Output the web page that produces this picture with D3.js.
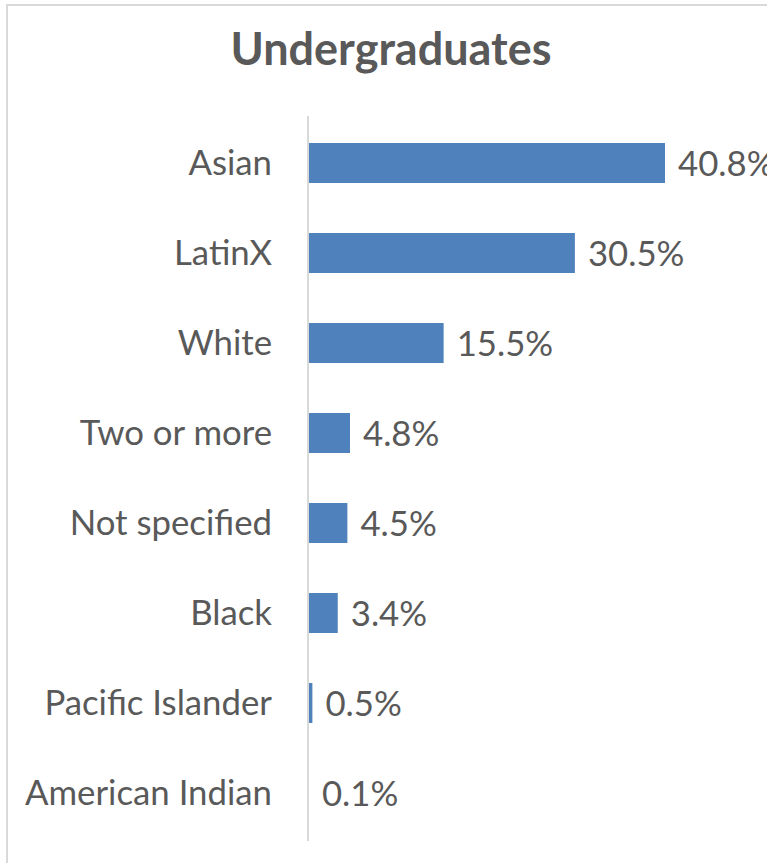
<!DOCTYPE html>
<html>
<head>
<meta charset="utf-8">
<script src="https://cdn.jsdelivr.net/npm/d3@7"></script>
<style>
  html, body { margin: 0; padding: 0; background: #fff; overflow: hidden; }
  svg { display: block; }
</style>
</head>
<body>
<svg id="chart" width="767" height="863"></svg>
<script>
const title = "Undergraduates";
const categories = ["Asian", "LatinX", "White", "Two or more", "Not specified", "Black", "Pacific Islander", "American Indian"];
const values = [40.8, 30.5, 15.5, 4.8, 4.5, 3.4, 0.5, 0.1];
const valueLabels = ["40.8%", "30.5%", "15.5%", "4.8%", "4.5%", "3.4%", "0.5%", "0.1%"];

const FONT = "Lato, 'Open Sans', sans-serif";
const TEXT = "#595959";
const BAR = "#4F81BD";
const GRID = "#D9D9D9";

const svg = d3.select("#chart");

// chart frame (extends past the viewport on right and bottom)
svg.append("rect")
  .attr("x", 7).attr("y", 5)
  .attr("width", 800).attr("height", 900)
  .attr("fill", "#fff")
  .attr("stroke", GRID).attr("stroke-width", 2);

const axisX = 308;
const x = d3.scaleLinear().domain([0, 40.8]).range([axisX, axisX + 357]);
const y = d3.scaleBand().domain(categories).range([118, 838])
  .paddingInner(0.5556).paddingOuter(0.2778);

// helper: fit font size so a text has a target width
function fitSize(txt, weight, target) {
  const t = svg.append("text").attr("font-family", FONT).attr("font-weight", weight)
    .attr("font-size", 100).text(txt);
  const w = t.node().getComputedTextLength();
  t.remove();
  return 100 * target / w;
}
const labelSize = fitSize("American Indian", 400, 247);
const titleSize = fitSize(title, 700, 321);

// title
svg.append("text")
  .attr("x", 391).attr("y", 65)
  .attr("text-anchor", "middle")
  .attr("font-family", FONT).attr("font-weight", 700)
  .attr("font-size", titleSize)
  .attr("fill", TEXT)
  .text(title);

// bars
svg.append("g").selectAll("rect")
  .data(values)
  .join("rect")
  .attr("x", x(0))
  .attr("y", (d, i) => y(categories[i]))
  .attr("width", d => x(d) - x(0))
  .attr("height", y.bandwidth())
  .attr("fill", BAR);

// category axis
const axis = d3.axisLeft(y).tickSize(0).tickPadding(36);
const gAxis = svg.append("g").attr("transform", `translate(${axisX},0)`).call(axis);
gAxis.select(".domain").remove();
gAxis.selectAll("text")
  .attr("font-family", FONT)
  .attr("font-size", labelSize)
  .attr("fill", TEXT)
  .attr("dy", "0.34em");

// axis line
svg.append("line")
  .attr("x1", axisX).attr("x2", axisX)
  .attr("y1", 116).attr("y2", 841)
  .attr("stroke", GRID).attr("stroke-width", 2);

// value labels
svg.append("g").selectAll("text")
  .data(values)
  .join("text")
  .attr("x", d => x(d) + 13)
  .attr("y", (d, i) => y(categories[i]) + y.bandwidth() / 2)
  .attr("dy", "0.37em")
  .attr("font-family", FONT)
  .attr("font-size", labelSize)
  .attr("fill", TEXT)
  .text((d, i) => valueLabels[i]);
</script>
</body>
</html>
